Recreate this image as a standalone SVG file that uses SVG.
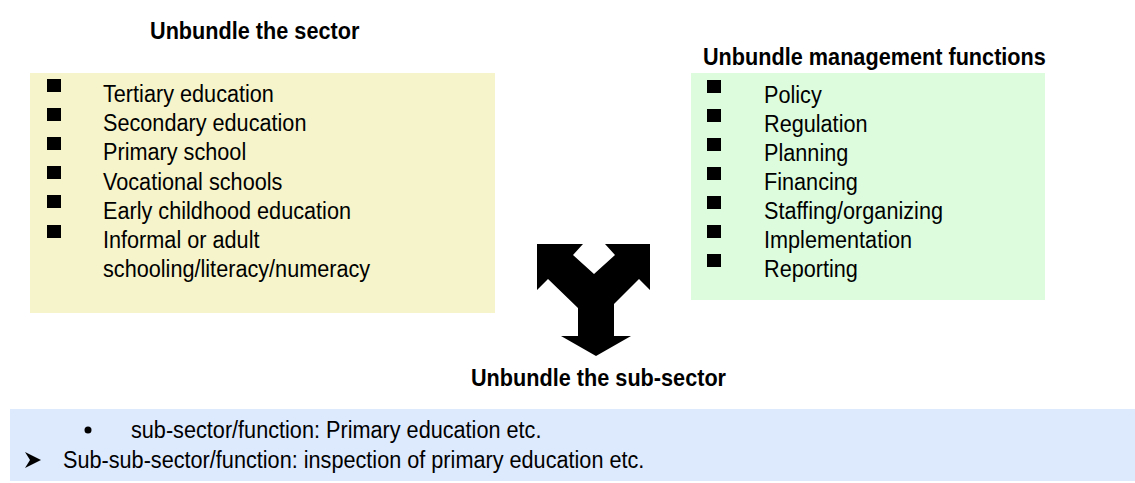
<svg xmlns="http://www.w3.org/2000/svg" width="1135" height="483" viewBox="0 0 1135 483">
<style>
.t{font-family:"Liberation Sans",Arial,sans-serif;font-size:23.3px;fill:#000}
.b{font-weight:bold}
.sq{fill:#000}
</style>
<rect width="1135" height="483" fill="#fff"/>
<g id="sector">
<rect x="30" y="73" width="465" height="240" fill="#F5F4CA"/>
<rect class="sq" x="47" y="79" width="14" height="13"/>
<rect class="sq" x="47" y="108" width="14" height="13"/>
<rect class="sq" x="47" y="137" width="14" height="13"/>
<rect class="sq" x="47" y="166" width="14" height="13"/>
<rect class="sq" x="47" y="195" width="14" height="13"/>
<rect class="sq" x="47" y="225" width="14" height="13"/>
<g transform="scale(0.93,1)">
<text class="t b" x="161.3" y="39">Unbundle the sector</text>
<text class="t" x="110.75" y="102">Tertiary education</text>
<text class="t" x="110.75" y="131.3">Secondary education</text>
<text class="t" x="110.75" y="160.5">Primary school</text>
<text class="t" x="110.75" y="189.8">Vocational schools</text>
<text class="t" x="110.75" y="219">Early childhood education</text>
<text class="t" x="110.75" y="248.3">Informal or adult</text>
<text class="t" x="110.75" y="277.5">schooling/literacy/numeracy</text>
</g>
</g>
<g id="management">
<rect x="691" y="73" width="354" height="227" fill="#DDFCDD"/>
<rect class="sq" x="707" y="80" width="14" height="13"/>
<rect class="sq" x="707" y="109" width="14" height="13"/>
<rect class="sq" x="707" y="138" width="14" height="13"/>
<rect class="sq" x="707" y="167" width="14" height="13"/>
<rect class="sq" x="707" y="196" width="14" height="13"/>
<rect class="sq" x="707" y="225" width="14" height="13"/>
<rect class="sq" x="707" y="254" width="14" height="13"/>
<g transform="scale(0.93,1)">
<text class="t b" x="755.9" y="65">Unbundle management functions</text>
<text class="t" x="821.5" y="103">Policy</text>
<text class="t" x="821.5" y="132">Regulation</text>
<text class="t" x="821.5" y="161">Planning</text>
<text class="t" x="821.5" y="190">Financing</text>
<text class="t" x="821.5" y="219">Staffing/organizing</text>
<text class="t" x="821.5" y="248">Implementation</text>
<text class="t" x="821.5" y="277">Reporting</text>
</g>
</g>
<g id="connectors">
<polygon fill="#000" points="537,244 583,244 573,255 594,274 615,255 605,244 650,244 650,290 639,279 614,304 614,336 631,336 596,356 561,336 578,336 578,308 548,279 537,290"/>
</g>
<g id="subsector">
<rect x="10" y="409" width="1125" height="72" fill="#DDE9FD"/>
<circle cx="88" cy="430" r="3.5" fill="#000"/>
<polygon fill="#000" points="25,452 41,460 25,468 30,460"/>
<g transform="scale(0.93,1)">
<text class="t b" x="506.45" y="386">Unbundle the sub-sector</text>
<text class="t" x="140.86" y="438">sub-sector/function: Primary education etc.</text>
<text class="t" x="67.74" y="468">Sub-sub-sector/function: inspection of primary education etc.</text>
</g>
</g>
</svg>
